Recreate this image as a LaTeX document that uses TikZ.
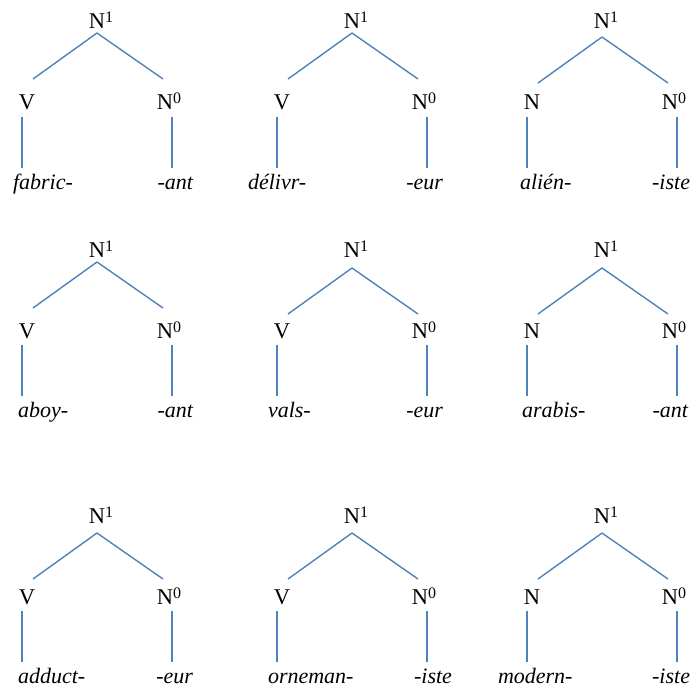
\documentclass[tikz,border=0pt]{standalone}
\usepackage{fontspec}
\setmainfont{Liberation Serif}
\definecolor{branch}{RGB}{79,129,189}
\newcommand\mysup[1]{\rlap{\raisebox{6pt}{\fontsize{16}{16}\selectfont #1}}}
\tikzset{
  cat/.style={anchor=base,inner sep=0pt,outer sep=0pt,font=\fontsize{22.5}{26}\selectfont},
  wrd/.style={inner sep=0pt,outer sep=0pt,text height=21pt,text depth=5pt,font=\fontsize{22}{26}\selectfont\itshape},
  br/.style={draw=branch,line width=1.4pt}
}
% #1 id, #2 dx, #3 dy, #4 left category, #5 left word, #6 left word x,
% #7 right word, #8 right word east x, #9 branch offset
\newcommand\ptree[9]{%
  \begin{scope}[shift={(#2,#3)}]
    \node[cat] (#1) at (97,29) {N\mysup{1}};
    \node[cat] (#1l) at (27,110) {#4};
    \node[cat] (#1r) at (165,110) {N\mysup{0}};
  \end{scope}
  \node[wrd,anchor=base west] (#1lw) at (#6,189+#3) {#5};
  \node[wrd,anchor=base east] (#1rw) at (#8,189+#3) {#7};
  \draw[br] ([yshift=-4pt-#9pt]#1.base) -- ([xshift=6pt,yshift=31pt-#9pt]#1l.base);
  \draw[br] ([yshift=-4pt-#9pt]#1.base) -- ([xshift=-2pt,yshift=31pt-#9pt]#1r.base);
  \draw[br] ([xshift=-5pt,yshift=-7pt]#1l.base) -- ([xshift=-5pt]#1l.base |- #1lw.north);
  \draw[br] ([xshift=7pt,yshift=-7pt]#1r.base) -- ([xshift=7pt]#1r.base |- #1rw.north);
}
\begin{document}
\begin{tikzpicture}[x=1pt,y=-1pt]
\useasboundingbox (0,0) rectangle (692,690);
\ptree{a}{0}{0}{V}{fabric-}{13}{-ant}{193}{0}
\ptree{b}{255}{0}{V}{délivr-}{248}{-eur}{443}{0}
\ptree{c}{505}{0}{N}{alién-}{520}{-iste}{690}{4}
\ptree{d}{0}{228}{V}{aboy-}{18}{-ant}{193}{1}
\ptree{e}{255}{228}{V}{vals-}{268}{-eur}{443}{7}
\ptree{f}{505}{228}{N}{arabis-}{522}{-ant}{688}{7}
\ptree{g}{0}{494}{V}{adduct-}{18}{-eur}{193}{6}
\ptree{h}{255}{494}{V}{orneman-}{268}{-iste}{452}{6}
\ptree{i}{505}{494}{N}{modern-}{498}{-iste}{690}{6}
\end{tikzpicture}
\end{document}
